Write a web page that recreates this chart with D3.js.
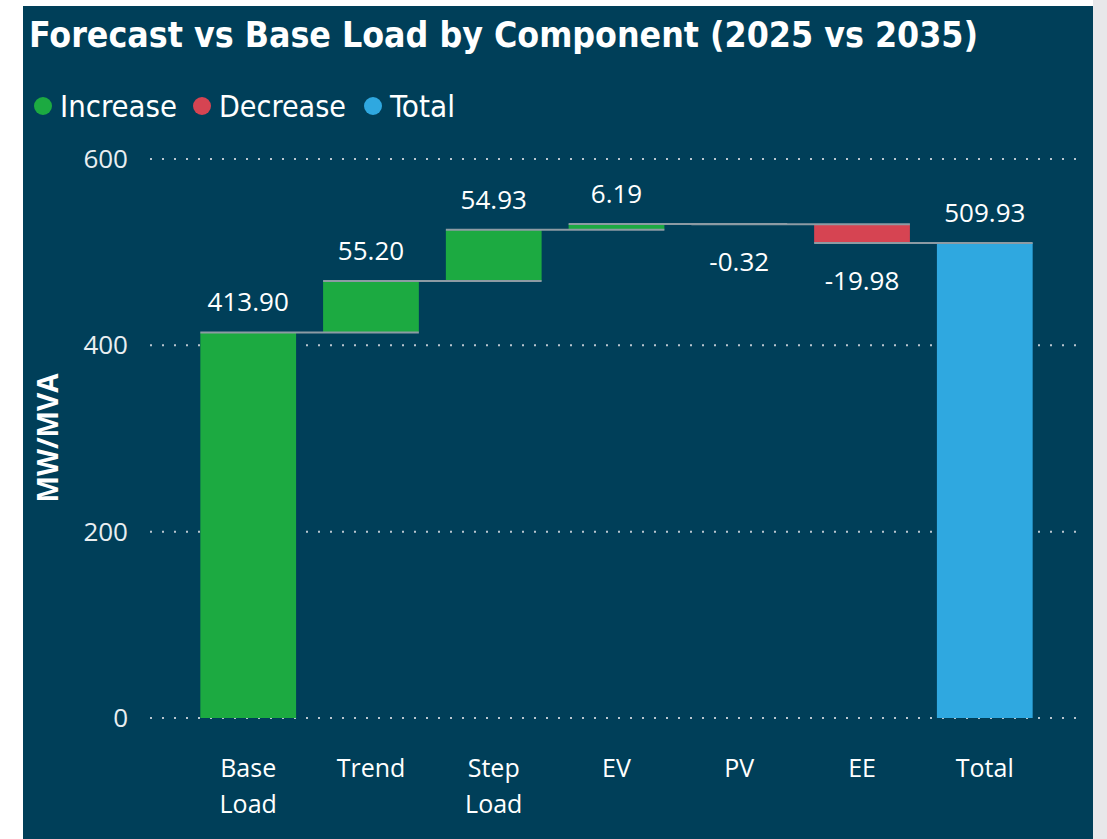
<!DOCTYPE html>
<html>
<head>
<meta charset="utf-8">
<script src="https://cdn.jsdelivr.net/npm/d3@7"></script>
<style>
  body { margin: 0; background: #ffffff; }
  svg { display: block; }
</style>
</head>
<body>
<svg id="chart" width="1107" height="839"></svg>
<script>
// chart data
var categories = ["Base Load", "Trend", "Step Load", "EV", "PV", "EE", "Total"];
var values = [413.90, 55.20, 54.93, 6.19, -0.32, -19.98, 509.93];
var kinds = ["Increase", "Increase", "Increase", "Increase", "Decrease", "Decrease", "Total"];
var yTicks = [0, 200, 400, 600];
var legendItems = ["Increase", "Decrease", "Total"];

var COLORS = {Increase: "#1caa41", Decrease: "#d64452", Total: "#2fa8e0"};
var BG = "#003f59";
var LABEL_FONT = "'Open Sans', 'Noto Sans', sans-serif";
var HEAD_FONT = "'DejaVu Sans Condensed', 'DejaVu Sans', sans-serif";

// plain hyphen for negatives, like the original
var fmt = d3.formatLocale({decimal: ".", thousands: ",", grouping: [3], currency: ["", ""], minus: "-"}).format(".2f");

var svg = d3.select("#chart");

// panel + right gutter
svg.append("rect").attr("x", 1093).attr("y", 0).attr("width", 14).attr("height", 839).attr("fill", "#e8e8ea");
svg.append("rect").attr("x", 23).attr("y", 6).attr("width", 1070).attr("height", 833).attr("fill", BG);

var x = d3.scaleBand()
    .domain(categories)
    .range([150, 1083])
    .paddingInner(0.22)
    .paddingOuter(0.41);

var y = d3.scaleLinear()
    .domain([0, 600])
    .range([718, 159]);

// build waterfall steps
var running = 0;
var steps = categories.map(function (c, i) {
    var v = values[i];
    var start, end;
    if (kinds[i] === "Total" || i === 0) {
        start = 0; end = v; running = v;
    } else {
        start = running; end = running + v; running = end;
    }
    return {name: c, value: v, kind: kinds[i], start: start, end: end};
});

// gridlines
svg.append("g")
    .selectAll("line")
    .data(yTicks)
    .join("line")
    .attr("x1", 150)
    .attr("x2", 1083)
    .attr("y1", function (d) { return y(d); })
    .attr("y2", function (d) { return y(d); })
    .attr("stroke", "#b9c6cf")
    .attr("stroke-width", 2)
    .attr("stroke-dasharray", "2,10");

// y tick labels
svg.append("g")
    .selectAll("text")
    .data(yTicks)
    .join("text")
    .attr("x", 128)
    .attr("y", function (d) { return y(d) + 9; })
    .attr("text-anchor", "end")
    .attr("fill", "#e9eef1")
    .style("font", "26px " + LABEL_FONT)
    .text(function (d) { return d; });

// y axis title
svg.append("text")
    .attr("transform", "translate(58,438) rotate(-90)")
    .attr("text-anchor", "middle")
    .attr("fill", "#ffffff")
    .style("font", "bold 28px " + LABEL_FONT)
    .text("MW/MVA");

// bars
svg.append("g")
    .selectAll("rect")
    .data(steps)
    .join("rect")
    .attr("x", function (d) { return x(d.name); })
    .attr("width", x.bandwidth())
    .attr("y", function (d) { return y(Math.max(d.start, d.end)); })
    .attr("height", function (d) { return Math.abs(y(d.start) - y(d.end)); })
    .attr("fill", function (d) { return COLORS[d.kind]; });

// connectors: from bar's left edge to the next bar's right edge
svg.append("g")
    .selectAll("line")
    .data(steps.slice(0, -1))
    .join("line")
    .attr("x1", function (d) { return x(d.name); })
    .attr("x2", function (d, i) { return x(categories[i + 1]) + x.bandwidth(); })
    .attr("y1", function (d) { return y(d.end); })
    .attr("y2", function (d) { return y(d.end); })
    .attr("stroke", "#8d9ba4")
    .attr("stroke-width", 2);

// value labels
svg.append("g")
    .selectAll("text")
    .data(steps)
    .join("text")
    .attr("x", function (d) { return x(d.name) + x.bandwidth() / 2; })
    .attr("y", function (d) {
        return d.value >= 0 ? y(d.end) - 21 : y(d.end) + 47;
    })
    .attr("text-anchor", "middle")
    .attr("fill", "#ffffff")
    .style("font", "26px " + LABEL_FONT)
    .text(function (d) { return fmt(d.value); });

// category labels (wrapped on space)
var catLabels = svg.append("g")
    .selectAll("text")
    .data(categories)
    .join("text")
    .attr("text-anchor", "middle")
    .attr("fill", "#ffffff")
    .style("font", "25px " + LABEL_FONT);

catLabels.each(function (d) {
    var words = d.split(" ");
    d3.select(this).selectAll("tspan")
        .data(words)
        .join("tspan")
        .attr("x", x(d) + x.bandwidth() / 2)
        .attr("y", function (w, i) { return 777 + i * 36; })
        .text(function (w) { return w; });
});

// title (condensed look: tall glyphs squeezed to width)
svg.append("text")
    .attr("x", 29)
    .attr("y", 47)
    .attr("fill", "#ffffff")
    .attr("textLength", 949)
    .attr("lengthAdjust", "spacingAndGlyphs")
    .style("font", "bold 36px " + HEAD_FONT)
    .text("Forecast vs Base Load by Component (2025 vs 2035)");

// legend
var legendX = [43, 202, 373];
var legendW = [117, 127, 65];
var legend = svg.append("g")
    .selectAll("g")
    .data(legendItems)
    .join("g")
    .attr("transform", function (d, i) { return "translate(" + legendX[i] + ",106)"; });

legend.append("circle")
    .attr("r", 9)
    .attr("fill", function (d) { return COLORS[d]; });

legend.append("text")
    .attr("x", 17)
    .attr("y", 11)
    .attr("fill", "#ffffff")
    .attr("textLength", function (d, i) { return legendW[i]; })
    .attr("lengthAdjust", "spacingAndGlyphs")
    .style("font", "30px " + HEAD_FONT)
    .text(function (d) { return d; });
</script>
</body>
</html>
